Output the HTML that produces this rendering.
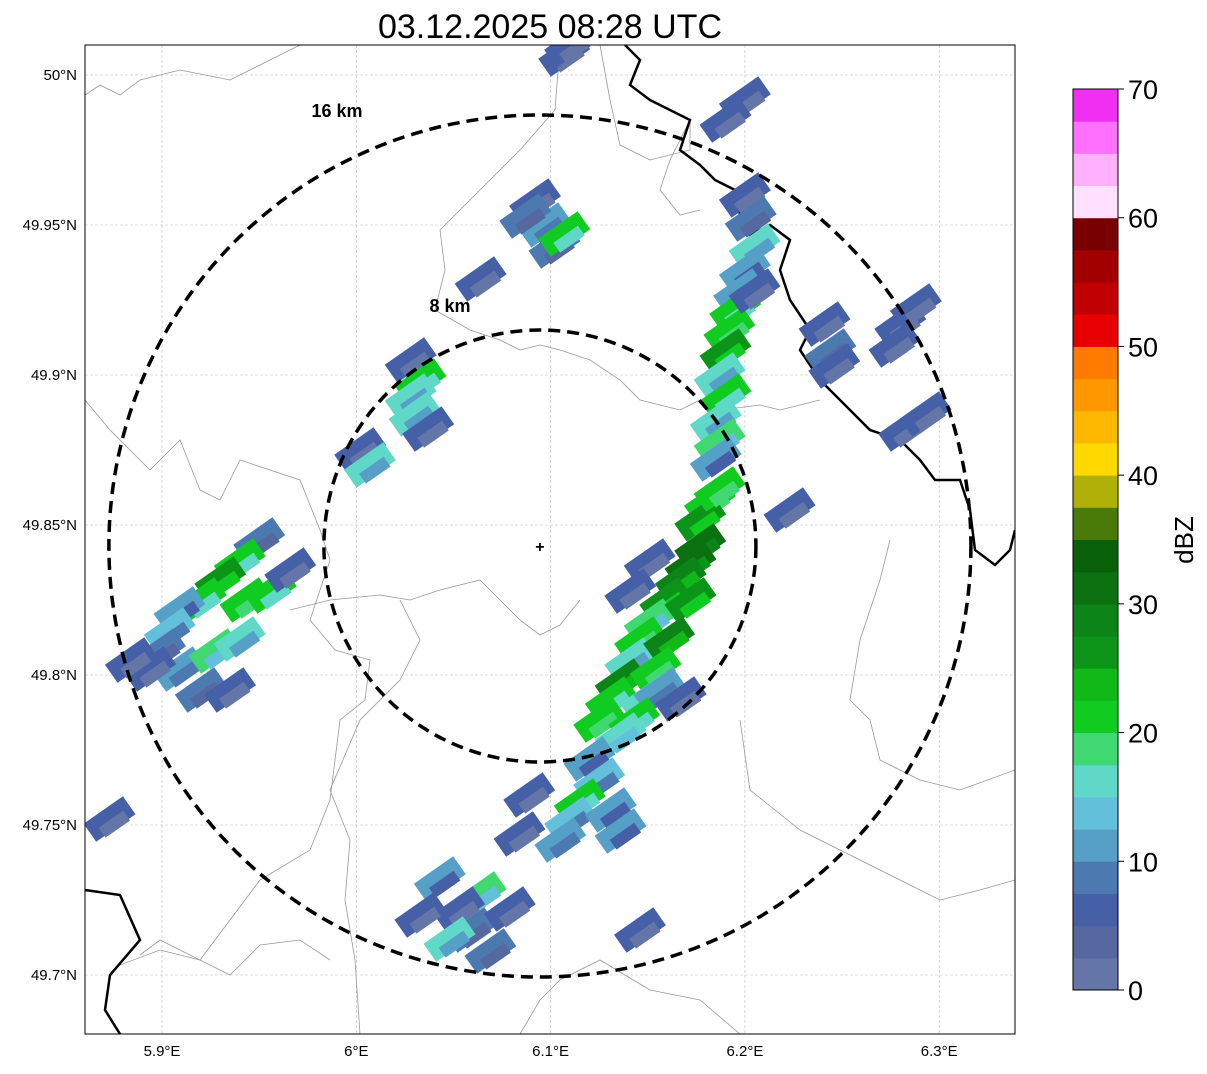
<!DOCTYPE html>
<html><head><meta charset="utf-8"><style>
body{margin:0;background:#fff;font-family:"Liberation Sans",sans-serif}
svg text{font-family:"Liberation Sans",sans-serif}
</style></head><body>
<svg id="chart" width="1207" height="1069" xmlns="http://www.w3.org/2000/svg">
<text x="550" y="38" font-size="34" text-anchor="middle">03.12.2025 08:28 UTC</text>
<defs><clipPath id="clip"><rect x="85" y="45" width="930" height="989"/></clipPath></defs>
<rect x="85" y="45" width="930" height="989" fill="#fff"/>
<g id="grid"></g>
<g clip-path="url(#clip)" fill="none" stroke="#999" stroke-width="0.8">
<polyline points="85,95 100,85 120,95 140,80 180,70 230,80 270,60 300,45"/>
<polyline points="85,400 110,430 130,450 150,470 180,440 200,490 220,500 240,460 270,470 300,480 320,530 330,560 310,620 335,650 370,660 365,700 340,720 330,800 310,850 260,880 200,960 160,940 140,955"/>
<polyline points="560,45 555,110 520,150 490,180 470,200 440,230 445,270 435,310 470,330 500,340 520,350 540,345 560,350 590,360 620,380 640,400 680,410 700,400 720,410 760,405 780,410 820,400"/>
<polyline points="290,610 330,600 380,595 410,600 440,590 480,580 500,600 520,620 540,635 560,625 580,600"/>
<polyline points="400,600 420,640 400,680 360,720 330,790 350,840 345,900 355,960 360,1034"/>
<polyline points="740,720 750,790 800,830 860,860 900,880 940,900 980,890 1015,880"/>
<polyline points="890,540 880,580 860,640 850,700 870,720 880,760 920,780 960,790 1015,770"/>
<polyline points="600,45 610,100 620,145 650,160 690,150 690,120 670,160 660,190 680,215 700,210"/>
<polyline points="520,1034 540,1000 560,980 600,960 650,990 700,1000 740,1034"/>
<polyline points="120,965 160,950 200,960 230,975 260,945 300,940 330,960"/>
</g>
<g clip-path="url(#clip)" fill="none" stroke="#000" stroke-width="2.5">
<polyline points="625,45 640,60 630,85 650,100 680,115 690,120 680,150 700,165 715,180 735,190 740,215 750,235 770,225 790,240 780,270 790,300 810,330 800,350 820,380 840,400 870,430 900,440 920,460 935,480 960,480 970,510 975,550 995,565 1010,550 1015,530"/>
<polyline points="85,890 120,895 140,940 110,975 105,1010 120,1034"/>
</g>
<g id="echoes" clip-path="url(#clip)"></g>
<g id="rings"></g>
<rect x="85" y="45" width="930" height="989" fill="none" stroke="#000" stroke-width="1"/>
<g id="axes"></g>
<g id="cbar"></g>
<text transform="translate(1193,540) rotate(-90)" font-size="26" text-anchor="middle">dBZ</text>
</svg>
<script>
const lonTicks=[5.9,6.0,6.1,6.2,6.3];
const lonLabels=["5.9°E","6°E","6.1°E","6.2°E","6.3°E"];
const latTicks=[50.0,49.95,49.9,49.85,49.8,49.75,49.7];
const latLabels=["50°N","49.95°N","49.9°N","49.85°N","49.8°N","49.75°N","49.7°N"];
const echoLon=[6.200,6.203,6.205,6.200,6.197,6.195,6.192,6.190,6.187,6.190,6.185,6.187,6.185,6.205,
6.182,6.177,6.177,6.172,6.167,6.159,6.151,6.146,6.141,6.136,6.131,6.125,6.172,6.161,6.154,6.149,6.156,6.143,6.136,6.187,6.151,6.141,6.167,
6.120,6.125,6.115,6.110,6.105,6.131,6.089,6.136,6.084,
6.064,6.053,6.059,6.048,6.069,6.043,6.079,6.033,6.146,
5.950,5.940,5.930,5.943,5.920,5.909,5.904,5.899,5.909,5.894,5.920,5.935,5.927,5.956,5.966,5.884,5.940,5.873,
6.092,6.097,6.102,6.107,6.087,6.064,
6.028,6.033,6.028,6.030,6.002,6.007,6.037,
6.200,6.190,6.241,6.244,6.246,6.280,6.288,6.277,6.282,6.293,6.223,6.107,6.110];
const echoLat=[49.960,49.952,49.943,49.935,49.928,49.922,49.915,49.908,49.900,49.893,49.885,49.878,49.872,49.928,
49.858,49.852,49.843,49.837,49.832,49.825,49.818,49.812,49.805,49.798,49.792,49.785,49.825,49.812,49.802,49.792,49.795,49.785,49.780,49.862,49.838,49.828,49.792,
49.772,49.765,49.758,49.752,49.745,49.755,49.760,49.748,49.747,
49.727,49.722,49.715,49.712,49.708,49.732,49.722,49.720,49.715,
49.845,49.838,49.832,49.825,49.825,49.822,49.815,49.808,49.802,49.802,49.795,49.795,49.808,49.828,49.835,49.805,49.812,49.752,
49.958,49.950,49.943,49.947,49.953,49.932,
49.905,49.898,49.893,49.887,49.875,49.870,49.882,
49.992,49.985,49.917,49.908,49.903,49.917,49.923,49.910,49.882,49.887,49.855,50.007,50.010];
const echoDbz=[5,8,15,10,12,20,22,25,15,20,15,18,10,5,
22,25,32,30,28,25,18,22,15,28,20,22,25,28,22,15,12,20,17,22,5,5,5,
10,13,20,13,12,10,5,10,5,
18,5,8,15,8,10,5,5,5,
8,20,25,22,20,10,13,8,12,5,8,5,18,20,5,5,15,5,
5,12,8,20,8,5,
5,20,15,15,5,15,5,
5,5,5,8,5,5,5,5,5,5,5,5,5];
const cbarColors=["#6476a8","#5569a0","#4660a8","#4c7ab0","#56a0c8","#62c0da","#60d8c8","#40d870","#10cc20","#10b818","#0c9418","#0c8418","#0a7010","#086008","#4a7a08","#b0b008","#ffd800","#ffb800","#ff9800","#ff7c00","#e60000","#c00000","#a00000","#780000","#ffe0ff","#ffb0ff","#ff70ff","#f030f0"];
const cbarTicks=[0,10,20,30,40,50,60,70];

const NS="http://www.w3.org/2000/svg";
const X=lon=>162+(lon-5.9)*1943;
const Y=lat=>75+(50-lat)*3000;
const CY=v=>990-v*(901/70);
function mk(t,a,p){const e=document.createElementNS(NS,t);for(const k in a)e.setAttribute(k,a[k]);p.appendChild(e);return e;}
function col(v){const i=Math.min(cbarColors.length-1,Math.max(0,Math.floor(v/2.5)));return cbarColors[i];}
const grid=document.getElementById('grid'),axes=document.getElementById('axes');
lonTicks.forEach((t,i)=>{
 const l=mk('line',{x1:X(t),x2:X(t),y1:45,y2:1034,stroke:'#bbb','stroke-width':0.6,'stroke-dasharray':'3,2'},grid);
 
 const tx=mk('text',{x:X(t),y:1056,'font-size':15,'text-anchor':'middle'},axes);tx.textContent=lonLabels[i];
 
});
latTicks.forEach((t,i)=>{
 const l=mk('line',{x1:85,x2:1015,y1:Y(t),y2:Y(t),stroke:'#bbb','stroke-width':0.6,'stroke-dasharray':'3,2'},grid);
 
 const tx=mk('text',{x:77,y:Y(t)+5,'font-size':15,'text-anchor':'end'},axes);tx.textContent=latLabels[i];
 
});
const eg=document.getElementById('echoes');
echoLon.forEach((lo,i)=>{
 const x=X(lo),y=Y(echoLat[i]);
 const r=mk('rect',{x:x-24,y:y-11,width:48,height:22,fill:col(echoDbz[i]),transform:`rotate(-35 ${x} ${y})`},eg);
 
 const r2=mk('rect',{x:x-14,y:y+1,width:30,height:12,fill:col(Math.max(0,echoDbz[i]-4)),transform:`rotate(-35 ${x} ${y})`},eg);
 
});
const rg=document.getElementById('rings');
const cx=X(6.0945),cy=Y(49.843);
[216,431].forEach(r=>{const c=mk('circle',{cx:cx,cy:cy,r:r,fill:'none',stroke:'#000','stroke-width':3.5,'stroke-dasharray':'12,7'},rg);
 });
let t1=mk('text',{x:337,y:117,'font-size':18,'font-weight':'bold','text-anchor':'middle'},rg);t1.textContent='16 km';

let t2=mk('text',{x:450,y:312,'font-size':18,'font-weight':'bold','text-anchor':'middle'},rg);t2.textContent='8 km';

let m=mk('text',{x:cx,y:cy+6,'font-size':16,'font-weight':'bold','text-anchor':'middle'},rg);m.textContent='+';

const cb=document.getElementById('cbar');
const bh=901/28;
for(let i=0;i<28;i++){
 const r=mk('rect',{x:1073,y:990-(i+1)*bh,width:45,height:bh+0.5,fill:cbarColors[i]},cb);
 }
mk('rect',{x:1073,y:89,width:45,height:901,fill:'none',stroke:'#000','stroke-width':1},cb);
cbarTicks.forEach(t=>{mk('line',{x1:1118,x2:1124,y1:CY(t),y2:CY(t),stroke:'#000'},cb);
 const tx=mk('text',{x:1128,y:CY(t)+10,'font-size':27},cb);tx.textContent=t;
 });
</script>
</body></html>
